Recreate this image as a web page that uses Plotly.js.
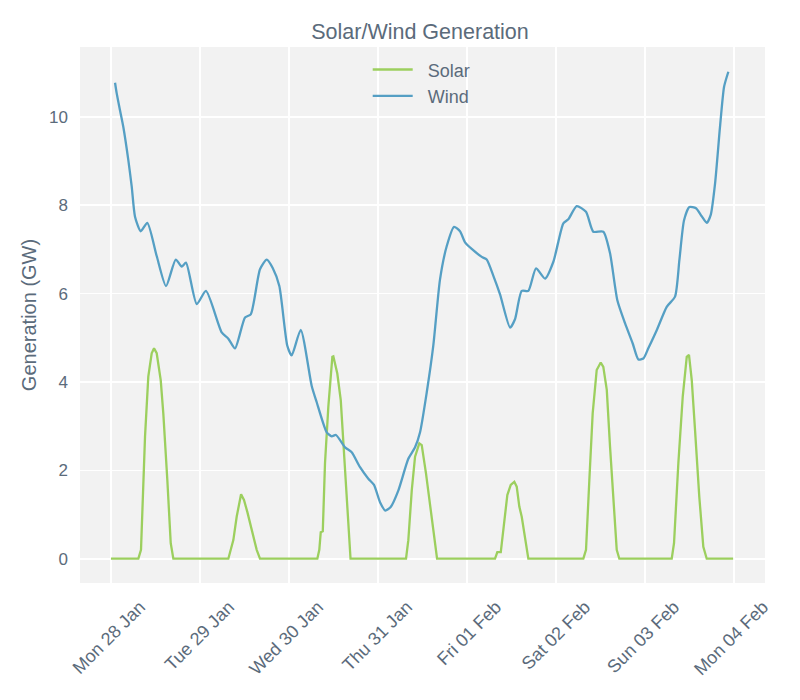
<!DOCTYPE html>
<html>
<head>
<meta charset="utf-8">
<script src="https://cdn.plot.ly/plotly-3.0.1.min.js"></script>
<style>html,body{margin:0;padding:0;background:#fff;}#chart{width:800px;height:700px;}</style>
</head>
<body>
<div id="chart"></div>
<script>
// Solar generation (GW)
const solarTimes = [
  "2019-01-28 00:00","2019-01-28 07:22","2019-01-28 08:05","2019-01-28 09:10","2019-01-28 10:03","2019-01-28 10:58","2019-01-28 11:36","2019-01-28 12:19","2019-01-28 13:24","2019-01-28 14:06","2019-01-28 15:11","2019-01-28 16:06","2019-01-28 16:48",
  "2019-01-29 07:38","2019-01-29 08:59","2019-01-29 09:53","2019-01-29 11:04","2019-01-29 11:51","2019-01-29 12:45","2019-01-29 13:57","2019-01-29 15:17","2019-01-29 16:10",
  "2019-01-30 07:38","2019-01-30 08:10","2019-01-30 08:33","2019-01-30 09:06","2019-01-30 09:42","2019-01-30 10:36","2019-01-30 11:41","2019-01-30 11:57","2019-01-30 13:01","2019-01-30 13:57","2019-01-30 14:38","2019-01-30 15:33","2019-01-30 16:10","2019-01-30 16:35",
  "2019-01-31 07:33","2019-01-31 08:10","2019-01-31 09:06","2019-01-31 09:59","2019-01-31 11:08","2019-01-31 11:47","2019-01-31 12:56","2019-01-31 14:01","2019-01-31 15:22","2019-01-31 15:55",
  "2019-02-01 07:33","2019-02-01 08:10","2019-02-01 09:06","2019-02-01 09:48","2019-02-01 10:52","2019-02-01 11:47","2019-02-01 12:45","2019-02-01 13:24","2019-02-01 14:06","2019-02-01 14:45","2019-02-01 15:39","2019-02-01 16:32",
  "2019-02-02 07:22","2019-02-02 08:05","2019-02-02 08:59","2019-02-02 09:53","2019-02-02 10:58","2019-02-02 12:03","2019-02-02 12:45","2019-02-02 13:41","2019-02-02 14:34","2019-02-02 15:27","2019-02-02 16:22","2019-02-02 17:04",
  "2019-02-03 07:12","2019-02-03 07:49","2019-02-03 08:59","2019-02-03 10:10","2019-02-03 11:15","2019-02-03 11:51","2019-02-03 12:36","2019-02-03 13:29","2019-02-03 14:38","2019-02-03 15:43","2019-02-03 16:38","2019-02-03 23:45"
];
const solarValues = [
  0,0,0.2,2.76,4.12,4.65,4.76,4.65,4.04,3.29,1.78,0.35,0,
  0,0.42,0.95,1.46,1.33,1.06,0.65,0.2,0,
  0,0.2,0.6,0.62,2.16,3.44,4.57,4.58,4.19,3.59,2.69,1.33,0.42,0,
  0,0.42,1.55,2.31,2.61,2.57,1.93,1.25,0.42,0,
  0,0.15,0.15,0.65,1.44,1.67,1.74,1.63,1.18,0.95,0.42,0,
  0,0.2,1.78,3.29,4.27,4.44,4.34,3.82,2.53,1.25,0.2,0,
  0,0.35,2.16,3.67,4.57,4.61,4.04,2.91,1.40,0.27,0,0
];

// Wind generation (GW)
const windTimes = [
  "2019-01-28 01:05","2019-01-28 01:32","2019-01-28 02:25","2019-01-28 03:19","2019-01-28 04:40","2019-01-28 05:35","2019-01-28 06:28","2019-01-28 08:00","2019-01-28 09:47","2019-01-28 12:19","2019-01-28 14:50","2019-01-28 17:27","2019-01-28 19:03","2019-01-28 20:13","2019-01-28 23:07",
  "2019-01-29 01:36","2019-01-29 05:51","2019-01-29 07:38","2019-01-29 09:26","2019-01-29 12:08","2019-01-29 13:41","2019-01-29 16:10","2019-01-29 17:59","2019-01-29 19:36","2019-01-29 21:23","2019-01-29 23:32",
  "2019-01-30 00:43","2019-01-30 03:09","2019-01-30 06:07","2019-01-30 07:28","2019-01-30 10:10","2019-01-30 11:31","2019-01-30 12:40","2019-01-30 15:06","2019-01-30 16:54","2019-01-30 19:09","2019-01-30 21:23","2019-01-30 22:55",
  "2019-01-31 00:32","2019-01-31 01:58","2019-01-31 03:25","2019-01-31 05:28","2019-01-31 08:10","2019-01-31 09:59","2019-01-31 11:20","2019-01-31 13:08","2019-01-31 14:54","2019-01-31 16:43","2019-01-31 18:31","2019-01-31 20:30","2019-01-31 22:06","2019-01-31 23:28",
  "2019-02-01 01:16","2019-02-01 03:58","2019-02-01 05:18","2019-02-01 07:06","2019-02-01 08:54","2019-02-01 11:36","2019-02-01 12:56","2019-02-01 14:45","2019-02-01 16:32","2019-02-01 18:36","2019-02-01 21:02","2019-02-01 23:17",
  "2019-02-02 00:37","2019-02-02 01:58","2019-02-02 03:19","2019-02-02 05:34","2019-02-02 08:05","2019-02-02 10:03","2019-02-02 12:45","2019-02-02 14:34","2019-02-02 16:32","2019-02-02 18:36","2019-02-02 20:41","2019-02-02 22:12","2019-02-02 23:33",
  "2019-02-03 00:53","2019-02-03 03:09","2019-02-03 05:51","2019-02-03 08:05","2019-02-03 09:16","2019-02-03 10:31","2019-02-03 11:57","2019-02-03 13:45","2019-02-03 15:17","2019-02-03 16:38","2019-02-03 17:43","2019-02-03 18:53","2019-02-03 20:13","2019-02-03 21:19","2019-02-03 22:28"
];
const windValues = [
  10.77,10.53,10.15,9.77,9.02,8.42,7.74,7.41,7.60,6.85,6.17,6.77,6.61,6.70,5.76,
  6.06,5.12,4.98,4.76,5.46,5.53,6.55,6.77,6.58,6.17,4.82,
  4.60,5.18,3.91,3.54,2.86,2.77,2.80,2.52,2.41,2.07,1.81,1.67,
  1.28,1.09,1.17,1.54,2.26,2.52,2.86,3.76,4.82,6.32,7.07,7.51,7.41,7.16,
  7.01,6.83,6.77,6.40,5.98,5.23,5.42,6.06,6.06,6.57,6.34,6.72,
  7.17,7.59,7.68,7.98,7.85,7.40,7.40,6.91,5.85,5.33,4.87,4.51,4.53,
  4.76,5.17,5.70,5.93,6.76,7.66,7.96,7.93,7.75,7.60,7.78,8.49,9.77,10.68,11.02
];

const tickVals = ["2019-01-28","2019-01-29","2019-01-30","2019-01-31","2019-02-01","2019-02-02","2019-02-03","2019-02-04"];
const tickText = ["Mon 28 Jan","Tue 29 Jan","Wed 30 Jan","Thu 31 Jan","Fri 01 Feb","Sat 02 Feb","Sun 03 Feb","Mon 04 Feb"];
const seriesNames = ["Solar", "Wind"];

const textColor = "#5b6b7b";
const fontFamily = "Liberation Sans, Arial, sans-serif";
const pad = "\u00a0\u00a0";

const traces = [
  {x: solarTimes, y: solarValues, type: "scatter", mode: "lines", name: pad + seriesNames[0],
   line: {color: "#9ccf5e", width: 2.3}},
  {x: windTimes, y: windValues, type: "scatter", mode: "lines", name: pad + seriesNames[1],
   line: {color: "#559fc4", width: 2.3, shape: "spline", smoothing: 0.6}}
];

const layout = {
  width: 800, height: 700,
  margin: {l: 80, r: 35, t: 47, b: 117},
  paper_bgcolor: "#ffffff",
  plot_bgcolor: "#f2f2f2",
  font: {family: fontFamily, color: textColor, size: 17},
  title: {text: "Solar/Wind Generation", x: 0.525, xanchor: "center", y: 0.955, yanchor: "middle",
          font: {size: 21.5, color: textColor, family: fontFamily}},
  showlegend: true,
  legend: {x: 0.42, xanchor: "left", y: 0.992, yanchor: "top", bgcolor: "rgba(0,0,0,0)",
           itemwidth: 40, font: {size: 18, color: textColor}, tracegroupgap: 0},
  xaxis: {
    type: "date",
    range: ["2019-01-27 15:38", "2019-02-04 08:21"],
    tickvals: tickVals, ticktext: tickText,
    tickangle: -45,
    ticklabelshift: 29,
    ticklabelstandoff: 9,
    showgrid: true, gridcolor: "#ffffff", gridwidth: 1.6,
    zeroline: false, showline: false, ticks: "",
    tickfont: {size: 18, color: textColor}
  },
  yaxis: {
    range: [-0.55, 11.58],
    tickvals: [0,2,4,6,8,10],
    showgrid: true, gridcolor: "#ffffff", gridwidth: 1.6,
    zeroline: false, showline: false, ticks: "",
    ticklabelstandoff: 11,
    tickfont: {size: 17, color: textColor},
    title: {text: "Generation (GW)", font: {size: 20, color: textColor}, standoff: 7}
  }
};

Plotly.newPlot("chart", traces, layout, {displayModeBar: false, staticPlot: true});
</script>
</body>
</html>
